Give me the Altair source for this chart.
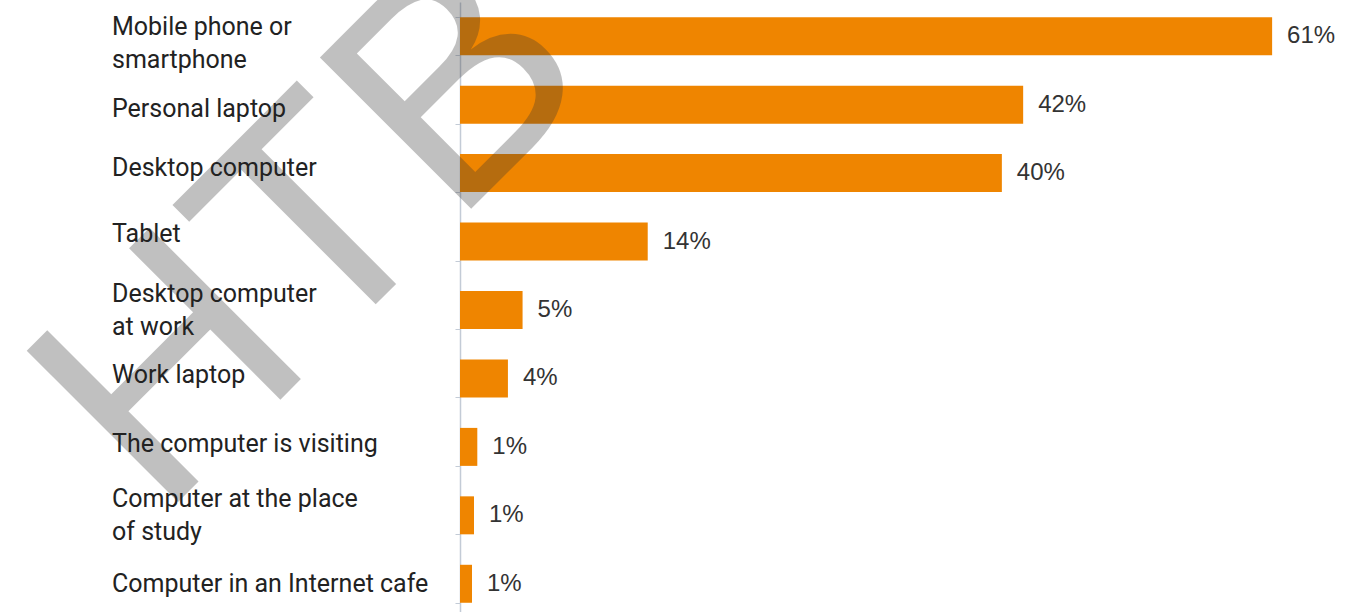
import altair as alt
import pandas as pd

categories = [
    "Mobile phone or|smartphone",
    "Personal laptop",
    "Desktop computer",
    "Tablet",
    "Desktop computer|at work",
    "Work laptop",
    "The computer is visiting",
    "Computer at the place|of study",
    "Computer in an Internet cafe",
]
bar_values = [61, 42.3, 40.7, 14.1, 4.7, 3.6, 1.3, 1.05, 0.9]
value_labels = ["61%", "42%", "40%", "14%", "5%", "4%", "1%", "1%", "1%"]
watermark = ["HTB"]

df = pd.DataFrame({"category": categories, "value": bar_values, "label": value_labels})
wm_df = pd.DataFrame({"t": watermark})

y_axis = alt.Axis(
    title=None,
    labels=False,
    tickSize=5,
    tickBand="extent",
    domainColor="#c3cbd6",
    tickColor="#c3cbd6",
    domainWidth=1.5,
)
y_scale = alt.Scale(paddingInner=0.445, paddingOuter=0.2225)
y = alt.Y("category:N", sort=categories, scale=y_scale, axis=y_axis)
x = alt.X("value:Q", scale=alt.Scale(domain=[0, 67.3]), axis=None)

bars = alt.Chart(df).mark_bar(color="#EF8500").encode(x=x, y=y)

texts = alt.Chart(df).mark_text(
    align="left", baseline="middle", dx=15,
    font="Liberation Sans", fontSize=24, color="#333333",
).encode(x=x, y=alt.Y("category:N", sort=categories), text="label:N")

label_dy = (
    "indexof(datum.category, 'Mobile') == 0 ? -9 : "
    "indexof(datum.category, '|') >= 0 ? -16 : "
    "datum.category == 'Tablet' ? -8 : "
    "datum.category == 'Desktop computer' ? -5 : "
    "datum.category == 'Personal laptop' ? 4 : "
    "datum.category == 'Computer in an Internet cafe' ? 0 : -3"
)
cat_labels = alt.Chart(df).mark_text(
    align="left", baseline="middle", lineBreak="|", lineHeight=33,
    font="Roboto", fontSize=25, color="#222222",
    dy={"expr": label_dy},
).encode(x=alt.value(-348), y=alt.Y("category:N", sort=categories), text="category:N")

wm = alt.Chart(wm_df).mark_text(
    align="left", baseline="alphabetic", angle=315,
    font="Liberation Sans", fontSize=311,
    color="#333333", opacity=0.3,
).encode(x=alt.value(-300), y=alt.value(518), text="t:N")

chart = (
    alt.layer(bars, texts, wm, cat_labels)
    .properties(
        width=896,
        height=616,
        autosize=alt.AutoSizeParams(type="none"),
        padding={"left": 460, "top": 2, "right": 0, "bottom": 0},
        background="white",
    )
    .configure_view(stroke=None)
)

chart.save("out.html", embed_options={"renderer": "svg", "actions": False})
